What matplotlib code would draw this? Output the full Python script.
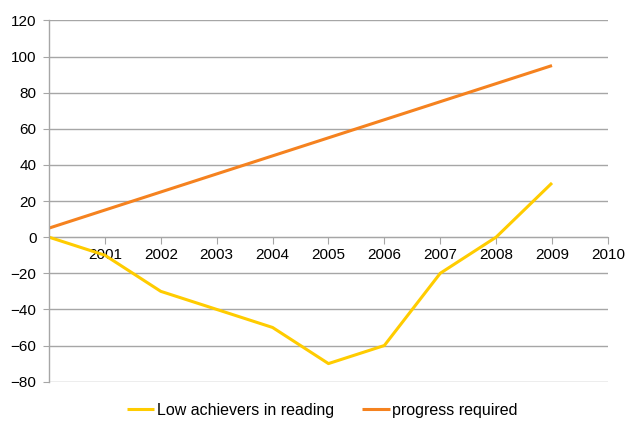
import matplotlib
matplotlib.use("Agg")
import matplotlib.pyplot as plt

years = [2000, 2001, 2002, 2003, 2004, 2005, 2006, 2007, 2008, 2009]
low_achievers = [0, -10, -30, -40, -50, -70, -60, -20, 0, 30]
progress_required = [5, 15, 25, 35, 45, 55, 65, 75, 85, 95]
year_ticks = [2001, 2002, 2003, 2004, 2005, 2006, 2007, 2008, 2009, 2010]
y_ticks = [-80, -60, -40, -20, 0, 20, 40, 60, 80, 100, 120]

plt.rcParams['font.family'] = ['Liberation Sans', 'DejaVu Sans']
grid_col = '#a6a6a6'
fs = 11

fig = plt.figure(figsize=(6.28, 4.25), dpi=100)
ax = fig.add_axes([0.078, 0.102, 0.89, 0.85])

ax.plot(years, low_achievers, color='#ffcc00', lw=2.2, label='Low achievers in reading', solid_capstyle='butt')
ax.plot(years, progress_required, color='#f5821f', lw=2.2, label='progress required', solid_capstyle='butt')

ax.set_xlim(2000, 2010)
ax.set_ylim(-80, 120)
ax.set_yticks(y_ticks)
ax.set_xticks(year_ticks)
ax.yaxis.grid(True, color=grid_col, lw=1.0)
ax.set_axisbelow(True)

for s in ['top', 'right', 'bottom']:
    ax.spines[s].set_visible(False)
ax.spines['left'].set_color(grid_col)
ax.spines['left'].set_linewidth(1.0)

# category axis crosses at zero
ax2 = ax.twiny()
ax2.set_xlim(ax.get_xlim())
ax.tick_params(axis='x', length=0, labelbottom=False)
ax2.spines['top'].set_visible(False)
ax2.spines['right'].set_visible(False)
ax2.spines['left'].set_visible(False)
ax2.spines['bottom'].set_position(('data', 0))
ax2.spines['bottom'].set_color(grid_col)
ax2.xaxis.set_ticks_position('bottom')
ax2.xaxis.set_label_position('bottom')
ax2.set_xticks(year_ticks)
ax2.set_xticklabels([str(y) for y in year_ticks])
ax2.tick_params(axis='x', direction='out', length=5, color=grid_col, labelsize=fs, pad=3)
ax2.set_zorder(0)
ax.set_zorder(1)
ax.patch.set_visible(False)

ax.tick_params(axis='y', direction='out', length=4, color=grid_col, labelsize=fs, pad=5)

ax.legend(loc='center', bbox_to_anchor=(0.489, -0.08), ncol=2, frameon=False,
          fontsize=11.5, handlelength=1.7, handletextpad=0.15, columnspacing=1.8,
          borderpad=0, borderaxespad=0)

fig.savefig('out.png', dpi=100)
